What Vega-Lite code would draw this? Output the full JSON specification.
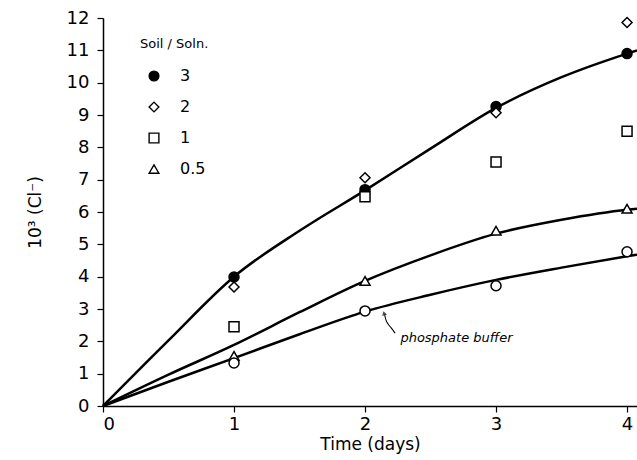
{
  "$schema": "https://vega.github.io/schema/vega-lite/v6.json",
  "width": 534,
  "height": 388,
  "autosize": {"type": "none"},
  "padding": {"left": 103, "top": 18, "right": 0, "bottom": 54},
  "background": "white",
  "config": {
    "view": {"stroke": null},
    "font": "DejaVu Sans",
    "axis": {"grid": false, "domainColor": "black", "domainWidth": 1.5, "tickColor": "black", "tickWidth": 1.2, "tickSize": 6, "labelFontSize": 18, "labelColor": "black", "labelOverlap": false, "titleFontSize": 17, "titleFontWeight": "normal", "titleColor": "black"},
    "legend": {"orient": "none", "legendX": 37, "legendY": 20, "titleFontSize": 13, "titleFontWeight": "normal", "titleColor": "black", "titlePadding": 17, "labelFontSize": 16, "labelColor": "black", "labelOffset": 18, "symbolSize": 95, "symbolStrokeWidth": 1.4, "rowPadding": 15, "symbolOffset": 6}
  },
  "datasets": {
    "pts": [
      {"day": 1, "cl": 3.99, "series": "3"},
      {"day": 2, "cl": 6.69, "series": "3"},
      {"day": 3, "cl": 9.26, "series": "3"},
      {"day": 4, "cl": 10.9, "series": "3"},
      {"day": 1, "cl": 3.68, "series": "2"},
      {"day": 2, "cl": 7.06, "series": "2"},
      {"day": 3, "cl": 9.07, "series": "2"},
      {"day": 4, "cl": 11.86, "series": "2"},
      {"day": 1, "cl": 2.45, "series": "1"},
      {"day": 2, "cl": 6.47, "series": "1"},
      {"day": 3, "cl": 7.55, "series": "1"},
      {"day": 4, "cl": 8.5, "series": "1"},
      {"day": 1, "cl": 1.55, "series": "0.5"},
      {"day": 2, "cl": 3.87, "series": "0.5"},
      {"day": 3, "cl": 5.42, "series": "0.5"},
      {"day": 4, "cl": 6.1, "series": "0.5"},
      {"day": 1, "cl": 1.33, "series": "phosphate buffer"},
      {"day": 2, "cl": 2.94, "series": "phosphate buffer"},
      {"day": 3, "cl": 3.72, "series": "phosphate buffer"},
      {"day": 4, "cl": 4.77, "series": "phosphate buffer"}
    ],
    "curves": [
      {"day": 0, "cl": 0, "curve": "top"},
      {"day": 0.5, "cl": 2.03, "curve": "top"},
      {"day": 1, "cl": 4.0, "curve": "top"},
      {"day": 1.5, "cl": 5.42, "curve": "top"},
      {"day": 2, "cl": 6.67, "curve": "top"},
      {"day": 2.5, "cl": 7.96, "curve": "top"},
      {"day": 3, "cl": 9.22, "curve": "top"},
      {"day": 3.5, "cl": 10.17, "curve": "top"},
      {"day": 4, "cl": 10.9, "curve": "top"},
      {"day": 4.076, "cl": 11.0, "curve": "top"},
      {"day": 0, "cl": 0, "curve": "mid"},
      {"day": 0.5, "cl": 0.97, "curve": "mid"},
      {"day": 1, "cl": 1.89, "curve": "mid"},
      {"day": 1.5, "cl": 2.9, "curve": "mid"},
      {"day": 2, "cl": 3.87, "curve": "mid"},
      {"day": 2.5, "cl": 4.66, "curve": "mid"},
      {"day": 3, "cl": 5.33, "curve": "mid"},
      {"day": 3.5, "cl": 5.76, "curve": "mid"},
      {"day": 4, "cl": 6.07, "curve": "mid"},
      {"day": 4.076, "cl": 6.1, "curve": "mid"},
      {"day": 0, "cl": 0, "curve": "low"},
      {"day": 0.5, "cl": 0.75, "curve": "low"},
      {"day": 1, "cl": 1.48, "curve": "low"},
      {"day": 1.5, "cl": 2.22, "curve": "low"},
      {"day": 2, "cl": 2.92, "curve": "low"},
      {"day": 2.5, "cl": 3.44, "curve": "low"},
      {"day": 3, "cl": 3.9, "curve": "low"},
      {"day": 3.5, "cl": 4.28, "curve": "low"},
      {"day": 4, "cl": 4.63, "curve": "low"},
      {"day": 4.076, "cl": 4.68, "curve": "low"}
    ],
    "arrow": [
      {"day": 2.23, "cl": 2.25, "ord": 1},
      {"day": 2.2, "cl": 2.42, "ord": 2},
      {"day": 2.16, "cl": 2.6, "ord": 3},
      {"day": 2.15, "cl": 2.83, "ord": 4}
    ],
    "head": [{"day": 2.145, "cl": 2.87}],
    "label": [{"day": 2.27, "cl": 2.1, "text": "phosphate buffer"}]
  },
  "encoding": {
    "x": {"field": "day", "type": "quantitative", "scale": {"domain": [0, 4.076], "nice": false}, "axis": {"values": [0, 1, 2, 3, 4], "title": "Time (days)", "titlePadding": 3, "labelPadding": 3, "format": "d"}},
    "y": {"field": "cl", "type": "quantitative", "scale": {"domain": [0, 12], "nice": false}, "axis": {"values": [0, 1, 2, 3, 4, 5, 6, 7, 8, 9, 10, 11, 12], "tickCount": 13, "title": "10³ (Cl⁻)", "titlePadding": 22, "labelPadding": 8, "format": "d"}}
  },
  "layer": [
    {
      "data": {"name": "curves"},
      "mark": {"type": "line", "interpolate": "monotone", "color": "black", "strokeWidth": 2.5},
      "encoding": {
        "detail": {"field": "curve"}
      }
    },
    {
      "data": {"name": "pts"},
      "mark": {"type": "point", "strokeWidth": 1.5, "size": 100, "opacity": 1},
      "encoding": {
        "shape": {"field": "series", "type": "nominal", "scale": {"domain": ["3", "2", "1", "0.5", "phosphate buffer"], "range": ["circle", "diamond", "square", "triangle-up", "circle"]}, "legend": {"values": ["3", "2", "1", "0.5"], "title": "Soil / Soln."}},
        "fill": {"field": "series", "type": "nominal", "scale": {"domain": ["3", "2", "1", "0.5", "phosphate buffer"], "range": ["black", "white", "white", "white", "white"]}, "legend": {"values": ["3", "2", "1", "0.5"], "title": "Soil / Soln."}},
        "stroke": {"field": "series", "type": "nominal", "scale": {"domain": ["3", "2", "1", "0.5", "phosphate buffer"], "range": ["black", "black", "black", "black", "black"]}, "legend": {"values": ["3", "2", "1", "0.5"], "title": "Soil / Soln."}}
      }
    },
    {
      "data": {"name": "arrow"},
      "mark": {"type": "line", "interpolate": "basis", "color": "black", "strokeWidth": 1.1},
      "encoding": {
        "order": {"field": "ord"}
      }
    },
    {
      "data": {"name": "head"},
      "mark": {"type": "point", "shape": "triangle-up", "filled": true, "color": "black", "size": 24, "angle": -15},
      "encoding": {}
    },
    {
      "data": {"name": "label"},
      "mark": {"type": "text", "align": "left", "baseline": "middle", "fontStyle": "italic", "fontSize": 13, "color": "black"},
      "encoding": {
        "text": {"field": "text"}
      }
    }
  ]
}
